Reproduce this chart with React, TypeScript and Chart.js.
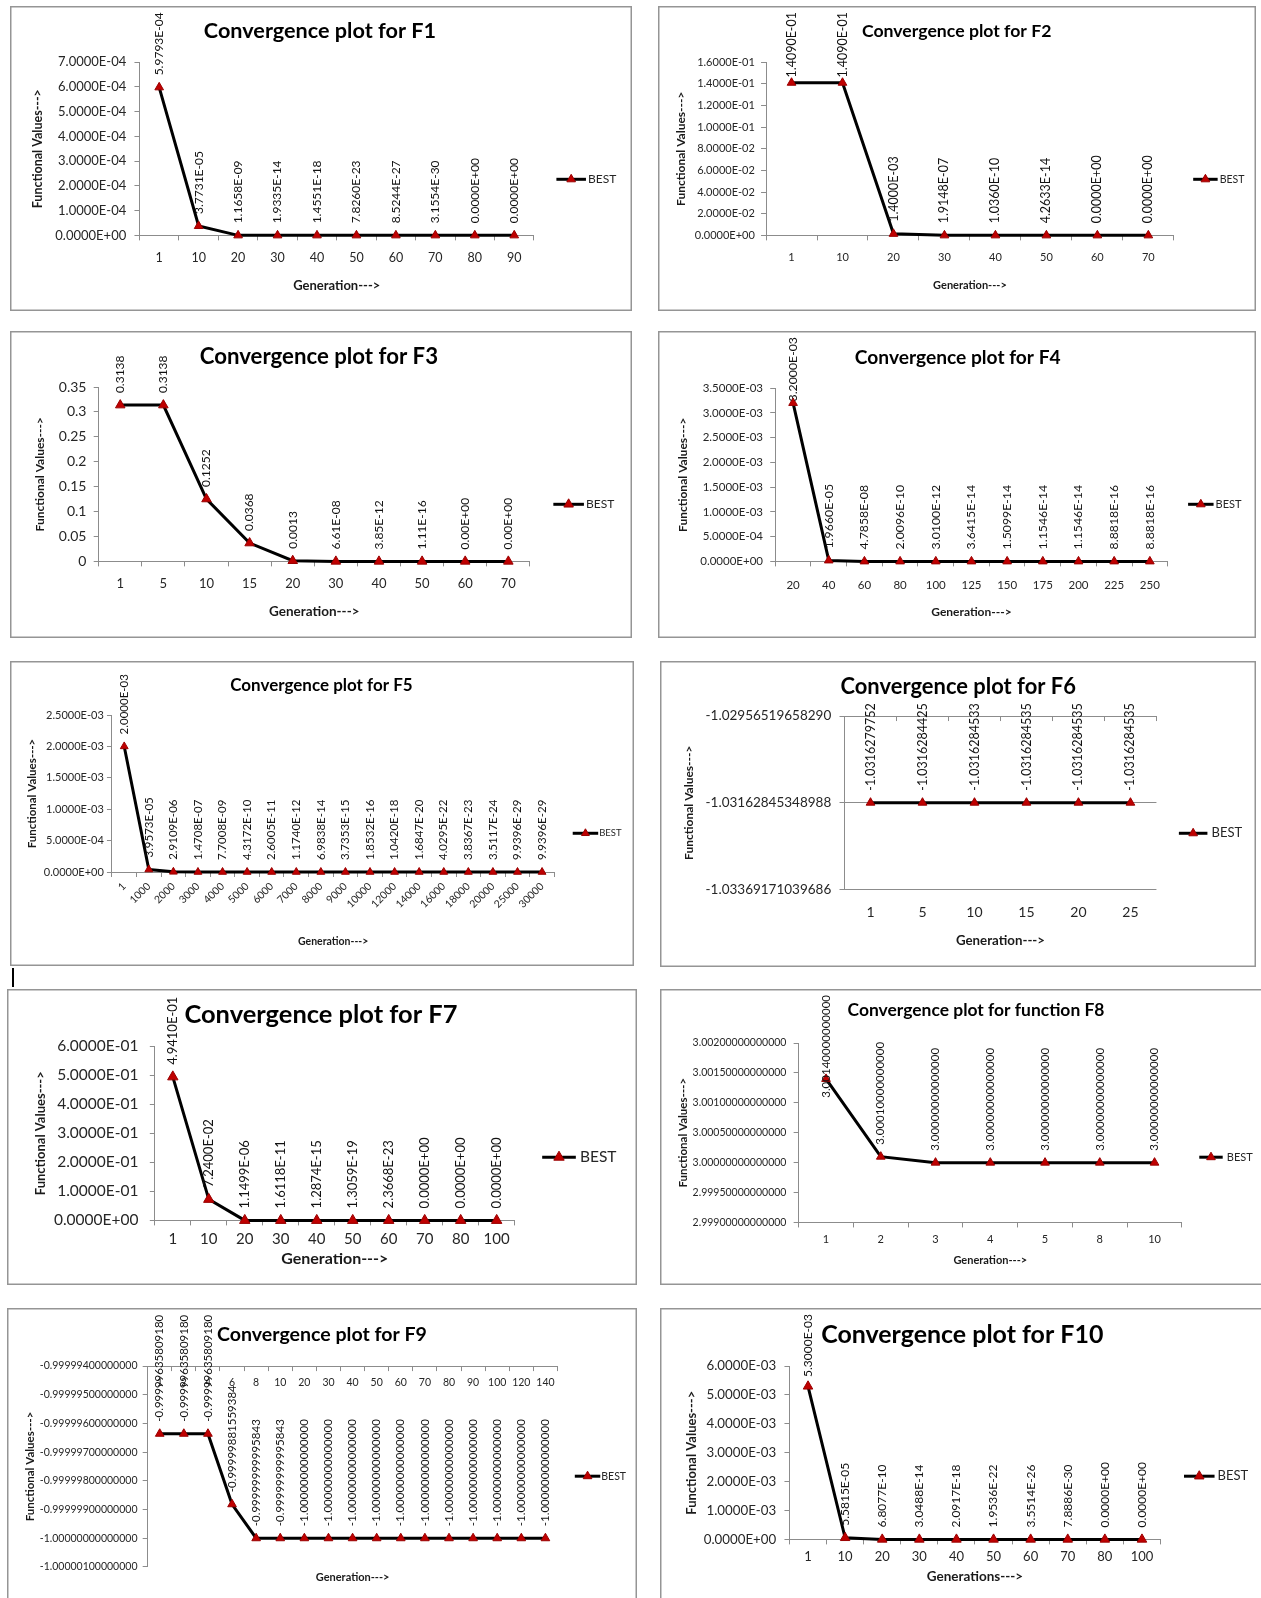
import React, { useEffect, useRef } from 'react';
import { Chart, registerables } from 'chart.js';

Chart.register(...registerables);

const FONT = 'Lato, "Liberation Sans", sans-serif';
Chart.defaults.font.family = FONT;

const S = 1261 / 1237; // reference (shrunk) units -> page pixels
const AXIS = '#8c8c8c';
const TEXT = '#262626';

// ================= DATA =================
// F1
const F1_GEN = ['1', '10', '20', '30', '40', '50', '60', '70', '80', '90'];
const F1_BEST = [5.9793e-4, 3.7731e-5, 1.1658e-9, 1.9335e-14, 1.4551e-18, 7.826e-23, 8.5244e-27, 3.1554e-30, 0, 0];
const F1_Y_TICKS = [0, 1e-4, 2e-4, 3e-4, 4e-4, 5e-4, 6e-4, 7e-4];

// F2
const F2_GEN = ['1', '10', '20', '30', '40', '50', '60', '70'];
const F2_BEST = [1.409e-1, 1.409e-1, 1.4e-3, 1.9148e-7, 1.036e-10, 4.2633e-14, 0, 0];
const F2_Y_TICKS = [0, 0.02, 0.04, 0.06, 0.08, 0.1, 0.12, 0.14, 0.16];

// F3
const F3_GEN = ['1', '5', '10', '15', '20', '30', '40', '50', '60', '70'];
const F3_BEST = [0.3138, 0.3138, 0.1252, 0.0368, 0.0013, 6.61e-8, 3.85e-12, 1.11e-16, 0, 0];
const F3_LABELS = ['0.3138', '0.3138', '0.1252', '0.0368', '0.0013', '6.61E-08', '3.85E-12', '1.11E-16', '0.00E+00', '0.00E+00'];
const F3_Y_TICKS = [0, 0.05, 0.1, 0.15, 0.2, 0.25, 0.3, 0.35];

// F4
const F4_GEN = ['20', '40', '60', '80', '100', '125', '150', '175', '200', '225', '250'];
const F4_BEST = [3.2e-3, 1.966e-5, 4.7858e-8, 2.0096e-10, 3.01e-12, 3.6415e-14, 1.5099e-14, 1.1546e-14, 1.1546e-14, 8.8818e-16, 8.8818e-16];
const F4_Y_TICKS = [0, 5e-4, 1e-3, 1.5e-3, 2e-3, 2.5e-3, 3e-3, 3.5e-3];

// F5
const F5_GEN = ['1', '1000', '2000', '3000', '4000', '5000', '6000', '7000', '8000', '9000', '10000', '12000', '14000', '16000', '18000', '20000', '25000', '30000'];
const F5_BEST = [2e-3, 3.9573e-5, 2.9109e-6, 1.4708e-7, 7.7008e-9, 4.3172e-10, 2.6005e-11, 1.174e-12, 6.9838e-14, 3.7353e-15, 1.8532e-16, 1.042e-18, 1.6847e-20, 4.0295e-22, 3.8367e-23, 3.5117e-24, 9.9396e-29, 9.9396e-29];
const F5_Y_TICKS = [0, 5e-4, 1e-3, 1.5e-3, 2e-3, 2.5e-3];

// F6
const F6_GEN = ['1', '5', '10', '15', '20', '25'];
const F6_BEST = [-1.0316279752, -1.0316284425, -1.0316284533, -1.0316284535, -1.0316284535, -1.0316284535];
const F6_Y_TICKS = [-1.03369171039686, -1.03162845348988, -1.0295651965829];

// F7
const F7_GEN = ['1', '10', '20', '30', '40', '50', '60', '70', '80', '100'];
const F7_BEST = [4.941e-1, 7.24e-2, 1.1499e-6, 1.6118e-11, 1.2874e-15, 1.3059e-19, 2.3668e-23, 0, 0, 0];
const F7_Y_TICKS = [0, 0.1, 0.2, 0.3, 0.4, 0.5, 0.6];

// F8
const F8_GEN = ['1', '2', '3', '4', '5', '8', '10'];
const F8_BEST = [3.0014, 3.0001, 3, 3, 3, 3, 3];
const F8_Y_TICKS = [2.999, 2.9995, 3, 3.0005, 3.001, 3.0015, 3.002];

// F9
const F9_GEN = ['1', '2', '4', '6', '8', '10', '20', '30', '40', '50', '60', '70', '80', '90', '100', '120', '140'];
const F9_BEST = [-0.9999963580918, -0.9999963580918, -0.9999963580918, -0.99999881559384, -0.99999999995843, -0.99999999995843, -1, -1, -1, -1, -1, -1, -1, -1, -1, -1, -1];
const F9_Y_TICKS = [-1.000001, -1, -0.999999, -0.999998, -0.999997, -0.999996, -0.999995, -0.999994];

// F10
const F10_GEN = ['1', '10', '20', '30', '40', '50', '60', '70', '80', '100'];
const F10_BEST = [5.3e-3, 5.5815e-5, 6.8077e-10, 3.0488e-14, 2.0917e-18, 1.9536e-22, 3.5514e-26, 7.8886e-30, 0, 0];
const F10_Y_TICKS = [0, 1e-3, 2e-3, 3e-3, 4e-3, 5e-3, 6e-3];

// ================= FORMATTERS =================
const sci4 = (v: number) => {
  const [m, e] = v.toExponential(4).split('e');
  const n = Number(e);
  return `${m}E${n < 0 ? '-' : '+'}${String(Math.abs(n)).padStart(2, '0')}`;
};
const fix14 = (v: number) => v.toFixed(14);
const fix10 = (v: number) => v.toFixed(10);
const plain = (v: number) => String(v);

// ================= PANELS (layout in reference units) =================
type Panel = any;

const PANELS: Panel[] = [
  {
    key: 'f1', box: [10, 6, 620, 305], plot: [137, 61, 524, 231],
    title: 'Convergence plot for F1', titleSpan: [200, 428], titleY: 31,
    yTitleX: 37, yTitleSize: 12.5, xTitle: 'Generation--->', xTitleY: 280.5, xTitleSize: 13,
    yLabRight: 124, yTickSize: 13, xLabY: 253, xTickSize: 12.5, labelSize: 12,
    legend: [546, 575, 577, 176, 12], marker: 5, mode: 'normal',
    categories: F1_GEN, values: F1_BEST, labels: F1_BEST.map(sci4), yTicks: F1_Y_TICKS, yFmt: sci4,
  },
  {
    key: 'f2', box: [645, 6, 1232, 305], plot: [751, 61, 1151, 231],
    title: 'Convergence plot for F2', titleSpan: [845, 1031], titleY: 31,
    yTitleX: 668, yTitleSize: 12, xTitle: 'Generation--->', xTitleY: 280.5, xTitleSize: 11,
    yLabRight: 740, yTickSize: 11, xLabY: 253, xTickSize: 11, labelSize: 12.5,
    legend: [1170, 1194, 1196, 176, 10.5], marker: 5, mode: 'normal',
    categories: F2_GEN, values: F2_BEST, labels: F2_BEST.map(sci4), yTicks: F2_Y_TICKS, yFmt: sci4,
  },
  {
    key: 'f3', box: [10, 325, 620, 626], plot: [97, 380, 520, 551],
    title: 'Convergence plot for F3', titleSpan: [196, 430], titleY: 350,
    yTitleX: 40, yTitleSize: 12, xTitle: 'Generation--->', xTitleY: 600.5, xTitleSize: 13.5,
    yLabRight: 85, yTickSize: 14, xLabY: 573, xTickSize: 13, labelSize: 12,
    legend: [543, 573, 575, 495, 12], marker: 5.5, mode: 'normal',
    categories: F3_GEN, values: F3_BEST, labels: F3_LABELS, yTicks: F3_Y_TICKS, yFmt: plain,
  },
  {
    key: 'f4', box: [645, 325, 1232, 626], plot: [760, 381, 1145, 551],
    title: 'Convergence plot for F4', titleSpan: [838, 1040], titleY: 351,
    yTitleX: 670, yTitleSize: 12, xTitle: 'Generation--->', xTitleY: 600.5, xTitleSize: 12,
    yLabRight: 748, yTickSize: 11.5, xLabY: 574, xTickSize: 11.5, labelSize: 12.3,
    legend: [1165, 1190, 1192, 495, 11], marker: 5, mode: 'normal',
    categories: F4_GEN, values: F4_BEST, labels: F4_BEST.map(sci4), yTicks: F4_Y_TICKS, yFmt: sci4,
  },
  {
    key: 'f5', box: [10, 648, 622, 947], plot: [110, 701, 544, 855],
    title: 'Convergence plot for F5', titleSpan: [226, 405], titleY: 672,
    yTitleX: 32, yTitleSize: 11.5, xTitle: 'Generation--->', xTitleY: 923, xTitleSize: 10.5,
    yLabRight: 102, yTickSize: 11, xLabY: 0, xTickSize: 10.5, xRotate: true, labelSize: 11.5,
    legend: [562, 587, 588, 817, 9.5], marker: 4.5, mode: 'normal',
    categories: F5_GEN, values: F5_BEST, labels: F5_BEST.map(sci4), yTicks: F5_Y_TICKS, yFmt: sci4,
  },
  {
    key: 'f6', box: [647, 648, 1232, 948], plot: [828, 702, 1134, 872],
    title: 'Convergence plot for F6', titleSpan: [824, 1055], titleY: 673,
    yTitleX: 676, yTitleSize: 12, xTitle: 'Generation--->', xTitleY: 922, xTitleSize: 13.3,
    yLabRight: 815, yTickSize: 13.5, xLabY: 895, xTickSize: 14, labelSize: 12.5,
    legend: [1156, 1184, 1188, 817, 13], marker: 5, mode: 'gridTop',
    categories: F6_GEN, values: F6_BEST, labels: F6_BEST.map(fix10), yTicks: F6_Y_TICKS, yFmt: fix14,
  },
  {
    key: 'f7', box: [7, 970, 625, 1260], plot: [152, 1026, 505, 1197],
    title: 'Convergence plot for F7', titleSpan: [181, 449], titleY: 995,
    yTitleX: 40, yTitleSize: 13, xTitle: 'Generation--->', xTitleY: 1235, xTitleSize: 16,
    yLabRight: 136, yTickSize: 15.5, xLabY: 1215, xTickSize: 15, labelSize: 13,
    legend: [532, 565, 569, 1135, 15.5], marker: 6, mode: 'normal',
    categories: F7_GEN, values: F7_BEST, labels: F7_BEST.map(sci4), yTicks: F7_Y_TICKS, yFmt: sci4,
  },
  {
    key: 'f8', box: [647, 970, 1240, 1260], plot: [783, 1023, 1159, 1199],
    title: 'Convergence plot for function F8', titleSpan: [831, 1083], titleY: 991,
    yTitleX: 670, yTitleSize: 11.5, xTitle: 'Generation--->', xTitleY: 1236, xTitleSize: 11,
    yLabRight: 771, yTickSize: 10.5, xLabY: 1215.5, xTickSize: 11, labelSize: 11.5,
    legend: [1176, 1199, 1203, 1135, 11], marker: 5, mode: 'normal',
    categories: F8_GEN, values: F8_BEST, labels: F8_BEST.map(fix14), yTicks: F8_Y_TICKS, yFmt: fix14,
  },
  {
    key: 'f9', box: [7, 1283, 625, 1600], plot: [145, 1340, 547, 1537],
    title: 'Convergence plot for F9', titleSpan: [213, 419], titleY: 1309.5,
    yTitleX: 30, yTitleSize: 11.5, xTitle: 'Generation--->', xTitleY: 1547.5, xTitleSize: 11,
    yLabRight: 135, yTickSize: 10.5, xLabY: 1356, xTickSize: 10.5, labelSize: 11.5,
    legend: [564, 589, 590, 1448, 10.5], marker: 5, mode: 'axisTop',
    categories: F9_GEN, values: F9_BEST, labels: F9_BEST.map(fix14), yTicks: F9_Y_TICKS, yFmt: fix14,
  },
  {
    key: 'f10', box: [647, 1283, 1240, 1600], plot: [774, 1340, 1138, 1510],
    title: 'Convergence plot for F10', titleSpan: [805, 1082], titleY: 1309,
    yTitleX: 678, yTitleSize: 13, xTitle: 'Generations--->', xTitleY: 1547, xTitleSize: 13.5,
    yLabRight: 761, yTickSize: 13.3, xLabY: 1527, xTickSize: 13, labelSize: 12,
    legend: [1161, 1191, 1194, 1448, 13], marker: 5.5, mode: 'normal',
    categories: F10_GEN, values: F10_BEST, labels: F10_BEST.map(sci4), yTicks: F10_Y_TICKS, yFmt: sci4,
  },
];

function triangle(ctx: CanvasRenderingContext2D, x: number, y: number, r: number) {
  ctx.beginPath();
  ctx.moveTo(x, y - r);
  ctx.lineTo(x + 0.866 * r, y + 0.5 * r);
  ctx.lineTo(x - 0.866 * r, y + 0.5 * r);
  ctx.closePath();
}

function buildConfig(p: Panel, W: number, H: number) {
  const [bx1, by1] = p.box;
  const lx = (x: number) => (x - bx1) * S;
  const ly = (y: number) => (y - by1) * S;
  const L = lx(p.plot[0]);
  const T = ly(p.plot[1]);
  const R = lx(p.plot[2]);
  const B = ly(p.plot[3]);
  const TL = 5;
  const padLeft = lx(p.yTitleX) - 0.6 * p.yTitleSize;
  const padBottom = H - ly(p.xTitleY) - 0.6 * p.xTitleSize;
  const padRight = W - R;
  const hasTop = p.mode !== 'normal';
  const topH = 1;
  const padTop = hasTop ? T - topH : T;
  const xTL = p.mode === 'normal' ? TL : 0;

  const tickFontY = { family: FONT, size: p.yTickSize };
  const tickFontX = { family: FONT, size: p.xTickSize };

  const scales: any = {
    y: {
      type: 'linear',
      min: p.yTicks[0],
      max: p.yTicks[p.yTicks.length - 1],
      afterBuildTicks: (s: any) => {
        s.ticks = p.yTicks.map((v: number) => ({ value: v }));
      },
      afterFit: (s: any) => {
        s.width = L - padLeft;
      },
      ticks: {
        autoSkip: false,
        font: tickFontY,
        color: TEXT,
        padding: L - TL - lx(p.yLabRight),
        callback: (v: any) => p.yFmt(Number(v)),
      },
      grid: {
        display: true,
        drawOnChartArea: p.mode === 'gridTop',
        drawTicks: true,
        tickLength: TL,
        color: AXIS,
        lineWidth: 1,
      },
      border: { display: true, color: AXIS, width: 1 },
      title: {
        display: true,
        text: 'Functional Values--->',
        font: { family: FONT, size: p.yTitleSize, weight: 'bold' },
        color: '#1a1a1a',
        padding: 0,
      },
    },
    x: {
      type: 'category',
      position: 'bottom',
      offset: true,
      afterFit: (s: any) => {
        s.height = H - padBottom - B;
      },
      ticks: {
        display: p.mode !== 'axisTop',
        autoSkip: false,
        font: tickFontX,
        color: TEXT,
        maxRotation: p.xRotate ? 45 : 0,
        minRotation: p.xRotate ? 45 : 0,
        padding: p.xRotate ? 3 : ly(p.xLabY) - B - xTL - 0.6 * p.xTickSize,
      },
      grid: {
        display: p.mode === 'normal',
        offset: true,
        drawOnChartArea: false,
        drawTicks: p.mode === 'normal',
        tickLength: xTL,
        color: AXIS,
      },
      border: { display: p.mode === 'normal', color: AXIS, width: 1 },
      title: {
        display: true,
        text: p.xTitle,
        font: { family: FONT, size: p.xTitleSize, weight: 'bold' },
        color: '#1a1a1a',
        padding: 0,
      },
    },
  };

  if (hasTop) {
    scales.xTop = {
      type: 'category',
      position: 'top',
      offset: true,
      afterFit: (s: any) => {
        s.height = topH;
      },
      ticks: {
        display: p.mode === 'axisTop',
        mirror: true,
        autoSkip: false,
        maxRotation: 0,
        minRotation: 0,
        font: tickFontX,
        color: TEXT,
        padding: ly(p.xLabY) - T - 0.6 * p.xTickSize,
      },
      grid: {
        display: true,
        offset: true,
        drawOnChartArea: false,
        drawTicks: true,
        tickLength: -TL,
        color: AXIS,
      },
      border: { display: p.mode === 'axisTop', color: AXIS, width: 1 },
    };
  }

  const decor = {
    id: 'decor_' + p.key,
    beforeDraw(chart: any) {
      const ctx = chart.ctx;
      ctx.save();
      ctx.fillStyle = '#ffffff';
      ctx.fillRect(0, 0, chart.width, chart.height);
      ctx.restore();
    },
    afterDatasetsDraw(chart: any) {
      const ctx = chart.ctx;
      const meta = chart.getDatasetMeta(0);
      ctx.save();
      ctx.font = `${p.labelSize}px ${FONT}`;
      ctx.fillStyle = '#111111';
      ctx.textAlign = 'left';
      ctx.textBaseline = 'middle';
      meta.data.forEach((pt: any, i: number) => {
        const text = p.labels[i];
        const w = ctx.measureText(text).width;
        let yb = pt.y - 12;
        if (yb - w < 6) yb = 6 + w;
        ctx.save();
        ctx.translate(pt.x, yb);
        ctx.rotate(-Math.PI / 2);
        ctx.fillText(text, 0, 0);
        ctx.restore();
      });
      ctx.restore();
    },
    afterDraw(chart: any) {
      const ctx = chart.ctx;
      ctx.save();
      // panel border
      ctx.strokeStyle = '#959595';
      ctx.lineWidth = 1.5;
      ctx.strokeRect(0.75, 0.75, chart.width - 1.5, chart.height - 1.5);
      // title, fitted to the width it spans in the reference
      const tw = (p.titleSpan[1] - p.titleSpan[0]) * S;
      ctx.font = `bold 20px ${FONT}`;
      const m = ctx.measureText(p.title).width;
      const size = (20 * tw) / m;
      ctx.font = `bold ${size}px ${FONT}`;
      ctx.fillStyle = '#000000';
      ctx.textAlign = 'center';
      ctx.textBaseline = 'middle';
      ctx.fillText(p.title, lx((p.titleSpan[0] + p.titleSpan[1]) / 2), ly(p.titleY));
      // legend
      const [lx1, lx2, ltx, lyy, lsz] = p.legend;
      const y = ly(lyy);
      ctx.strokeStyle = '#000000';
      ctx.lineWidth = 3;
      ctx.beginPath();
      ctx.moveTo(lx(lx1), y);
      ctx.lineTo(lx(lx2), y);
      ctx.stroke();
      triangle(ctx, (lx(lx1) + lx(lx2)) / 2, y, p.marker);
      ctx.fillStyle = '#c00000';
      ctx.fill();
      ctx.lineWidth = 1;
      ctx.strokeStyle = '#9a0000';
      ctx.stroke();
      ctx.font = `${lsz}px ${FONT}`;
      ctx.fillStyle = TEXT;
      ctx.textAlign = 'left';
      ctx.fillText(chart.data.datasets[0].label, lx(ltx), y);
      ctx.restore();
    },
  };

  return {
    type: 'line',
    data: {
      labels: p.categories,
      datasets: [
        {
          label: 'BEST',
          data: p.values,
          xAxisID: 'x',
          yAxisID: 'y',
          borderColor: '#000000',
          borderWidth: 3,
          tension: 0,
          fill: false,
          clip: false,
          pointStyle: 'triangle',
          pointRadius: p.marker,
          pointBackgroundColor: '#c00000',
          pointBorderColor: '#9a0000',
          pointBorderWidth: 1,
        },
      ],
    },
    options: {
      responsive: false,
      animation: false,
      devicePixelRatio: 1,
      events: [],
      layout: { padding: { left: padLeft, right: padRight, top: padTop, bottom: padBottom } },
      plugins: {
        legend: { display: false },
        title: { display: false },
        tooltip: { enabled: false },
      },
      scales,
    },
    plugins: [decor],
  } as any;
}

function ChartPanel({ p }: { p: Panel }) {
  const ref = useRef<HTMLCanvasElement>(null);
  const [bx1, by1, bx2, by2] = p.box;
  const left = Math.round(bx1 * S);
  const top = Math.round(by1 * S);
  const W = Math.round((bx2 - bx1) * S);
  const H = Math.round((by2 - by1) * S);
  useEffect(() => {
    if (!ref.current) return;
    const chart = new Chart(ref.current, buildConfig(p, W, H));
    return () => chart.destroy();
  }, []);
  return (
    <canvas
      ref={ref}
      width={W}
      height={H}
      style={{ position: 'absolute', left, top, width: W, height: H, display: 'block' }}
    />
  );
}

export default function App() {
  return (
    <div
      style={{
        position: 'absolute',
        left: 0,
        top: 0,
        width: 1261,
        height: 1598,
        overflow: 'hidden',
        background: '#ffffff',
      }}
    >
      {PANELS.map((p) => (
        <ChartPanel key={p.key} p={p} />
      ))}
      <div style={{ position: 'absolute', left: 12, top: 968, width: 2, height: 19, background: '#000' }} />
    </div>
  );
}
